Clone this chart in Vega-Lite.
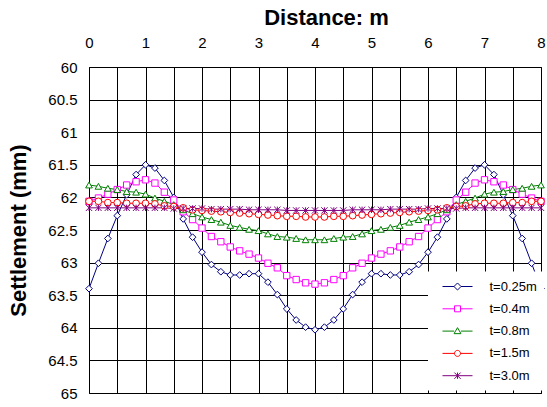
{
  "$schema": "https://vega.github.io/schema/vega-lite/v6.json",
  "width": 452,
  "height": 326,
  "autosize": "none",
  "padding": {"left": 89, "top": 67, "right": 6, "bottom": 14},
  "background": "white",
  "config": {
    "view": {"stroke": "black", "strokeWidth": 1},
    "font": "Liberation Sans"
  },
  "data": {
    "values": [
      {"x": 0, "a": 63.40, "b": 62.06, "c": 61.81, "d": 62.06, "e": 62.16},
      {"x": 0.1667, "a": 63.01, "b": 62.01, "c": 61.83, "d": 62.06, "e": 62.16},
      {"x": 0.3333, "a": 62.63, "b": 61.95, "c": 61.86, "d": 62.08, "e": 62.16},
      {"x": 0.5, "a": 62.28, "b": 61.88, "c": 61.88, "d": 62.08, "e": 62.16},
      {"x": 0.6667, "a": 61.96, "b": 61.81, "c": 61.91, "d": 62.09, "e": 62.16},
      {"x": 0.8333, "a": 61.65, "b": 61.76, "c": 61.92, "d": 62.09, "e": 62.16},
      {"x": 1, "a": 61.50, "b": 61.73, "c": 61.95, "d": 62.09, "e": 62.16},
      {"x": 1.1667, "a": 61.55, "b": 61.78, "c": 62.01, "d": 62.10, "e": 62.16},
      {"x": 1.3333, "a": 61.74, "b": 61.92, "c": 62.06, "d": 62.13, "e": 62.16},
      {"x": 1.5, "a": 62.00, "b": 62.04, "c": 62.11, "d": 62.14, "e": 62.17},
      {"x": 1.6667, "a": 62.33, "b": 62.22, "c": 62.19, "d": 62.16, "e": 62.17},
      {"x": 1.8333, "a": 62.61, "b": 62.34, "c": 62.25, "d": 62.19, "e": 62.17},
      {"x": 2, "a": 62.84, "b": 62.47, "c": 62.30, "d": 62.20, "e": 62.17},
      {"x": 2.1667, "a": 63.03, "b": 62.60, "c": 62.34, "d": 62.21, "e": 62.18},
      {"x": 2.3333, "a": 63.14, "b": 62.68, "c": 62.38, "d": 62.22, "e": 62.18},
      {"x": 2.5, "a": 63.19, "b": 62.76, "c": 62.43, "d": 62.23, "e": 62.18},
      {"x": 2.6667, "a": 63.19, "b": 62.82, "c": 62.46, "d": 62.24, "e": 62.18},
      {"x": 2.8333, "a": 63.17, "b": 62.87, "c": 62.49, "d": 62.25, "e": 62.19},
      {"x": 3, "a": 63.17, "b": 62.93, "c": 62.51, "d": 62.26, "e": 62.19},
      {"x": 3.1667, "a": 63.30, "b": 63.01, "c": 62.56, "d": 62.27, "e": 62.19},
      {"x": 3.3333, "a": 63.49, "b": 63.08, "c": 62.60, "d": 62.28, "e": 62.19},
      {"x": 3.5, "a": 63.71, "b": 63.20, "c": 62.61, "d": 62.29, "e": 62.20},
      {"x": 3.6667, "a": 63.88, "b": 63.26, "c": 62.63, "d": 62.29, "e": 62.20},
      {"x": 3.8333, "a": 63.99, "b": 63.31, "c": 62.65, "d": 62.30, "e": 62.20},
      {"x": 4, "a": 64.03, "b": 63.33, "c": 62.65, "d": 62.30, "e": 62.20},
      {"x": 4.1667, "a": 63.99, "b": 63.31, "c": 62.65, "d": 62.30, "e": 62.20},
      {"x": 4.3333, "a": 63.88, "b": 63.26, "c": 62.63, "d": 62.29, "e": 62.20},
      {"x": 4.5, "a": 63.71, "b": 63.20, "c": 62.61, "d": 62.29, "e": 62.20},
      {"x": 4.6667, "a": 63.49, "b": 63.08, "c": 62.60, "d": 62.28, "e": 62.19},
      {"x": 4.8333, "a": 63.30, "b": 63.01, "c": 62.56, "d": 62.27, "e": 62.19},
      {"x": 5, "a": 63.17, "b": 62.93, "c": 62.51, "d": 62.26, "e": 62.19},
      {"x": 5.1667, "a": 63.17, "b": 62.87, "c": 62.49, "d": 62.25, "e": 62.19},
      {"x": 5.3333, "a": 63.19, "b": 62.82, "c": 62.46, "d": 62.24, "e": 62.18},
      {"x": 5.5, "a": 63.19, "b": 62.76, "c": 62.43, "d": 62.23, "e": 62.18},
      {"x": 5.6667, "a": 63.14, "b": 62.68, "c": 62.38, "d": 62.22, "e": 62.18},
      {"x": 5.8333, "a": 63.03, "b": 62.60, "c": 62.34, "d": 62.21, "e": 62.18},
      {"x": 6, "a": 62.84, "b": 62.47, "c": 62.30, "d": 62.20, "e": 62.17},
      {"x": 6.1667, "a": 62.61, "b": 62.34, "c": 62.25, "d": 62.19, "e": 62.17},
      {"x": 6.3333, "a": 62.33, "b": 62.22, "c": 62.19, "d": 62.16, "e": 62.17},
      {"x": 6.5, "a": 62.00, "b": 62.04, "c": 62.11, "d": 62.14, "e": 62.17},
      {"x": 6.6667, "a": 61.74, "b": 61.92, "c": 62.06, "d": 62.13, "e": 62.16},
      {"x": 6.8333, "a": 61.55, "b": 61.78, "c": 62.01, "d": 62.10, "e": 62.16},
      {"x": 7, "a": 61.50, "b": 61.73, "c": 61.95, "d": 62.09, "e": 62.16},
      {"x": 7.1667, "a": 61.65, "b": 61.76, "c": 61.92, "d": 62.09, "e": 62.16},
      {"x": 7.3333, "a": 61.96, "b": 61.81, "c": 61.91, "d": 62.09, "e": 62.16},
      {"x": 7.5, "a": 62.28, "b": 61.88, "c": 61.88, "d": 62.08, "e": 62.16},
      {"x": 7.6667, "a": 62.63, "b": 61.95, "c": 61.86, "d": 62.08, "e": 62.16},
      {"x": 7.8333, "a": 63.01, "b": 62.01, "c": 61.83, "d": 62.06, "e": 62.16},
      {"x": 8, "a": 63.40, "b": 62.06, "c": 61.81, "d": 62.06, "e": 62.16}
    ]
  },
  "transform": [{"fold": ["a", "b", "c", "d", "e"], "as": ["series", "value"]}],
  "encoding": {
    "x": {
      "field": "x",
      "type": "quantitative",
      "scale": {"domain": [0, 8], "nice": false, "zero": false},
      "axis": {
        "orient": "top",
        "values": [0, 0.5, 1, 1.5, 2, 2.5, 3, 3.5, 4, 4.5, 5, 5.5, 6, 6.5, 7, 7.5, 8],
        "format": "~g",
        "labelExpr": "datum.value % 1 === 0 ? datum.label : ''",
        "labelOverlap": false,
        "labelFlush": false,
        "labelFontSize": 15,
        "labelColor": "black",
        "labelPadding": 17,
        "ticks": false,
        "domain": false,
        "grid": true,
        "gridColor": "black",
        "gridOpacity": 1,
        "gridWidth": 1,
        "title": "Distance: m",
        "titleFontSize": 22,
        "titleFontWeight": "bold",
        "titleColor": "black",
        "titleX": 237,
        "titleY": -50,
        "titleBaseline": "middle"
      }
    },
    "y": {
      "field": "value",
      "type": "quantitative",
      "scale": {"domain": [60, 65], "reverse": true, "nice": false, "zero": false},
      "axis": {
        "values": [60, 60.5, 61, 61.5, 62, 62.5, 63, 63.5, 64, 64.5, 65],
        "format": "~g",
        "labelFontSize": 15,
        "labelColor": "black",
        "labelPadding": 12,
        "ticks": false,
        "domain": false,
        "grid": true,
        "gridColor": "black",
        "gridOpacity": 1,
        "gridWidth": 1,
        "title": "Settlement (mm)",
        "titleFontSize": 22,
        "titleFontWeight": "bold",
        "titleColor": "black",
        "titlePadding": 17
      }
    },
    "stroke": {
      "field": "series",
      "type": "nominal",
      "scale": {
        "domain": ["a", "b", "c", "d", "e"],
        "range": ["#000080", "#FF00FF", "#008000", "#FF0000", "#800080"]
      },
      "legend": {
        "title": null,
        "orient": "none",
        "legendX": 339,
        "legendY": 204.5,
        "fillColor": "white",
        "padding": 7,
        "labelFontSize": 13,
        "labelColor": "black",
        "labelExpr": "datum.value === 'a' ? 't=0.25m' : datum.value === 'b' ? 't=0.4m' : datum.value === 'c' ? 't=0.8m' : datum.value === 'd' ? 't=1.5m' : 't=3.0m'",
        "symbolSize": 225,
        "symbolStrokeWidth": 1,
        "symbolFillColor": "white",
        "symbolOffset": 14.5,
        "rowPadding": 7.3,
        "labelOffset": 24,
        "encode": {
          "symbols": {
            "update": {
              "shape": {"signal": "datum.value === 'a' ? 'M-2,0L-0.47,0M0.47,0L2,0M0,-0.47L0.47,0L0,0.47L-0.47,0Z' : datum.value === 'b' ? 'M-2,0L-0.4,0M0.4,0L2,0M-0.4,-0.4L0.4,-0.4L0.4,0.4L-0.4,0.4Z' : datum.value === 'c' ? 'M-2,0L-0.45,0M0.45,0L2,0M0,-0.46L0.46,0.34L-0.46,0.34Z' : datum.value === 'd' ? 'M-2,0L-0.4,0M0.4,0L2,0M0.4,0A0.4,0.4,0,1,1,-0.4,0A0.4,0.4,0,1,1,0.4,0Z' : 'M-2,0L2,0M0,-0.42L0,0.42M-0.42,-0.42L0.42,0.42M-0.42,0.42L0.42,-0.42'"},
              "fill": {"value": "white"},
              "fillOpacity": {"value": 1},
              "strokeWidth": {"value": 1},
              "opacity": {"value": 1}
            }
          }
        }
      }
    }
  },
  "layer": [
    {
      "mark": {"type": "line", "strokeWidth": 1}
    },
    {
      "transform": [{"filter": "datum.series === 'a'"}],
      "mark": {"type": "point", "shape": "diamond", "filled": true, "fill": "white", "fillOpacity": 1, "opacity": 1, "size": 45, "strokeWidth": 1}
    },
    {
      "transform": [{"filter": "datum.series === 'b'"}],
      "mark": {"type": "point", "shape": "square", "filled": true, "fill": "white", "fillOpacity": 1, "opacity": 1, "size": 40, "strokeWidth": 1}
    },
    {
      "transform": [{"filter": "datum.series === 'c'"}],
      "mark": {"type": "point", "shape": "triangle-up", "filled": true, "fill": "white", "fillOpacity": 1, "opacity": 1, "size": 45, "strokeWidth": 1}
    },
    {
      "transform": [{"filter": "datum.series === 'd'"}],
      "mark": {"type": "point", "shape": "circle", "filled": true, "fill": "white", "fillOpacity": 1, "opacity": 1, "size": 45, "strokeWidth": 1}
    },
    {
      "transform": [{"filter": "datum.series === 'e'"}],
      "mark": {"type": "point", "shape": "M0,-1L0,1M-1,-1L1,1M-1,1L1,-1", "filled": true, "fill": "white", "fillOpacity": 1, "opacity": 1, "size": 40, "strokeWidth": 1}
    }
  ]
}
